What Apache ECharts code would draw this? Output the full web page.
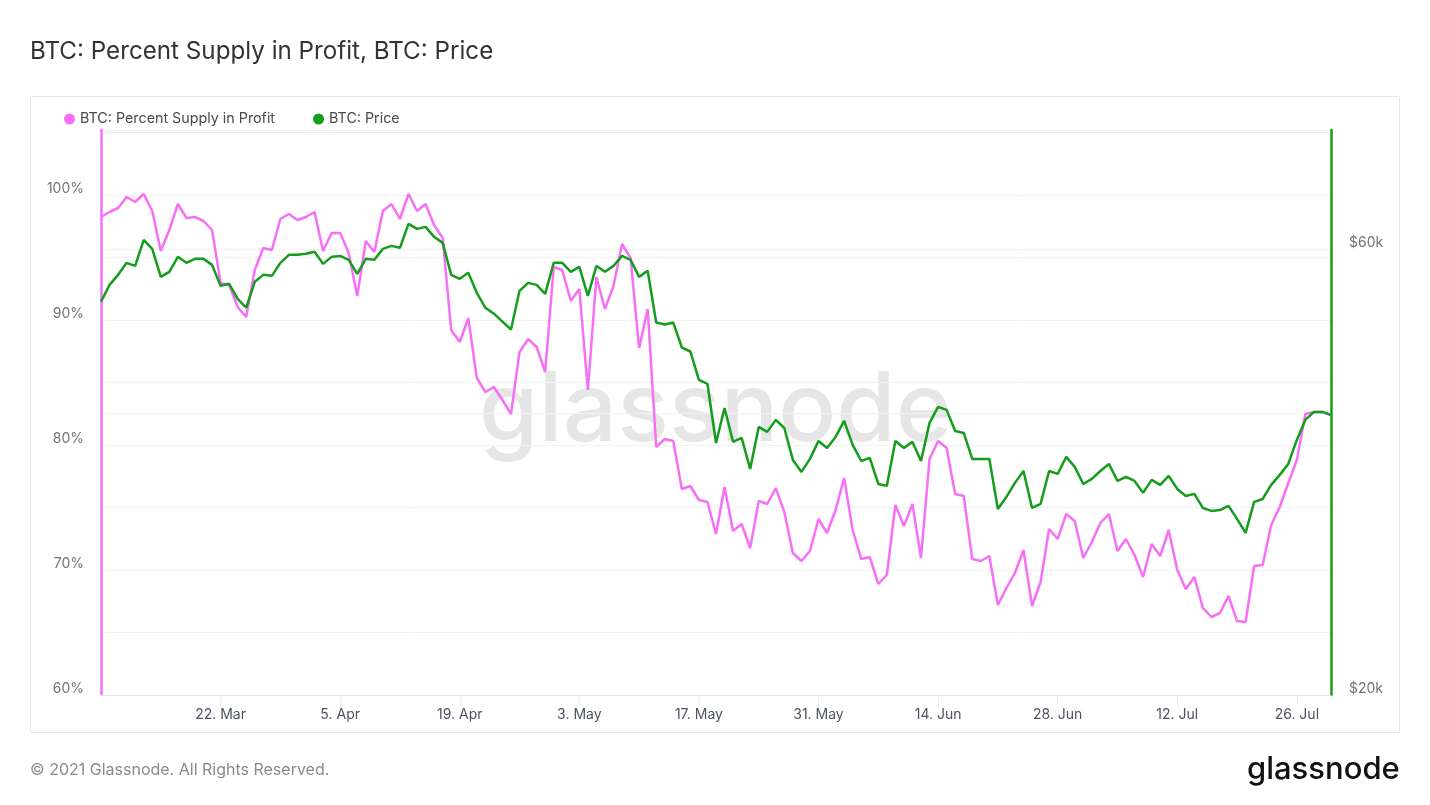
<!DOCTYPE html>
<html>
<head>
<meta charset="utf-8">
<title>BTC: Percent Supply in Profit, BTC: Price</title>
<script src="https://cdn.jsdelivr.net/npm/echarts@6/dist/echarts.min.js"></script>
<style>
  html, body { margin: 0; padding: 0; background: #fff; }
  #chart { width: 1430px; height: 805px; }
</style>
</head>
<body>
<div id="chart"></div>
<script>
const monthNames = ['Mar', 'Apr', 'May', 'Jun', 'Jul'];
const firstDay = Date.UTC(2021, 2, 8);
const dayCount = 145;
const tickEvery = 14;

const profitPct = [
  98.24, 98.64, 98.96, 99.84, 99.44, 100.08, 98.72, 95.52, 97.2, 99.28,
  98.16, 98.24, 97.92, 97.2, 92.96, 92.8, 91.04, 90.24, 94.0, 95.76,
  95.6, 98.08, 98.48, 98.0, 98.24, 98.64, 95.52, 96.96, 96.96, 95.36,
  91.92, 96.32, 95.44, 98.72, 99.28, 98.08, 100.08, 98.72, 99.28, 97.6,
  96.56, 89.2, 88.24, 90.16, 85.36, 84.24, 84.64, 83.6, 82.48, 87.44,
  88.48, 87.84, 85.84, 94.24, 94.0, 91.52, 92.48, 84.4, 93.44, 90.88,
  92.72, 96.08, 94.96, 87.76, 90.88, 79.84, 80.48, 80.32, 76.48, 76.72,
  75.6, 75.44, 72.88, 76.64, 73.12, 73.68, 71.76, 75.52, 75.28, 76.56,
  74.64, 71.36, 70.72, 71.52, 74.08, 72.96, 74.8, 77.36, 73.2, 70.88,
  71.04, 68.88, 69.6, 75.2, 73.52, 75.28, 70.96, 78.88, 80.32, 79.76,
  76.08, 75.92, 70.88, 70.72, 71.12, 67.2, 68.56, 69.76, 71.6, 67.12,
  69.04, 73.28, 72.48, 74.48, 73.92, 70.96, 72.24, 73.76, 74.48, 71.52,
  72.48, 71.2, 69.44, 72.08, 71.12, 73.2, 70.0, 68.48, 69.44, 66.96,
  66.24, 66.56, 67.92, 65.92, 65.84, 70.32, 70.4, 73.6, 75.04, 76.96,
  78.8, 82.48, 82.64, 82.64, 82.4
];

const btcPrice = [
  52670, 54910, 56280, 57970, 57540, 61340, 60000, 56000, 56700, 58830,
  57970, 58540, 58540, 57680, 54780, 55050, 53060, 51900, 55320, 56280,
  56140, 57970, 59120, 59120, 59270, 59560, 57820, 58830, 58970, 58400,
  56420, 58540, 58400, 60000, 60440, 60150, 63810, 63030, 63340, 61800,
  60890, 56280, 55730, 56560, 53850, 51900, 51150, 50160, 49190, 54110,
  55180, 54910, 53710, 57970, 57970, 56700, 57400, 53450, 57540, 56700,
  57540, 58970, 58400, 56000, 56840, 50040, 49800, 50040, 47060, 46600,
  43450, 43020, 37200, 40550, 37300, 37670, 34900, 38700, 38230, 39380,
  38600, 35680, 34640, 35770, 37390, 36750, 37760, 39280, 37020, 35590,
  35860, 33630, 33470, 37390, 36750, 37300, 35590, 39090, 40660, 40360,
  38320, 38130, 35770, 35770, 35770, 31620, 32570, 33720, 34720, 31700,
  32020, 34720, 34470, 35950, 35070, 33630, 34050, 34720, 35330, 33880,
  34220, 33880, 32900, 33970, 33550, 34300, 33220, 32650, 32820, 31700,
  31470, 31540, 31860, 30860, 29810, 32180, 32410, 33550, 34390, 35330,
  37480, 39380, 40160, 40160, 39860
];

const priceGridValues = [20000, 40000, 60000];
const priceLabelValues = [20000, 60000];

const pink = '#f76ff7';
const green = '#149c1c';
const labelGray = '#737373';
const gridGray = '#f2f2f2';
const fontName = 'Inter';

const categories = [];
for (let i = 0; i < dayCount; i++) {
  const d = new Date(firstDay + i * 86400000);
  categories.push(d.getUTCDate() + '. ' + monthNames[d.getUTCMonth() - 2]);
}

const showTick = (index) => index > 0 && index % tickEvery === 0;

const chart = echarts.init(document.getElementById('chart'), null, {renderer: 'canvas'});

chart.setOption({
  animation: false,
  backgroundColor: '#fff',
  textStyle: {fontFamily: fontName},
  title: {
    text: 'BTC: Percent Supply in Profit, BTC: Price',
    left: 30,
    top: 40,
    padding: 0,
    textStyle: {fontFamily: fontName, fontSize: 24.2, fontWeight: 'normal', color: '#333'}
  },
  legend: {
    left: 64,
    top: 112,
    padding: 0,
    icon: 'circle',
    itemWidth: 11,
    itemHeight: 11,
    itemGap: 38,
    textStyle: {fontFamily: fontName, fontSize: 14.3, color: '#4a4a4a'}
  },
  grid: {left: 101, right: 99, top: 130, bottom: 110, containLabel: false},
  xAxis: {
    type: 'category',
    data: categories,
    boundaryGap: false,
    axisLine: {lineStyle: {color: '#e6e6e6', width: 1}},
    axisTick: {interval: showTick, length: 12, lineStyle: {color: '#eeeeee'}},
    axisLabel: {
      interval: showTick,
      margin: 13,
      fontFamily: fontName,
      fontSize: 14,
      color: '#4d5360'
    },
    splitLine: {show: false}
  },
  yAxis: [
    {
      type: 'value',
      min: 60,
      max: 105.2,
      interval: 5,
      axisLine: {show: true, onZero: false, lineStyle: {color: pink, width: 2.5}},
      axisTick: {show: false},
      axisLabel: {
        margin: 17,
        verticalAlign: 'bottom',
        lineHeight: 12,
        fontFamily: fontName,
        fontSize: 14,
        color: labelGray,
        showMaxLabel: false,
        formatter: (v) => (v % 10 === 0 ? v + '%' : '')
      },
      splitLine: {lineStyle: {color: gridGray, width: 1}}
    },
    {
      type: 'log',
      position: 'right',
      min: 20000,
      max: 80400,
      axisLine: {show: true, onZero: false, lineStyle: {color: green, width: 2.5}},
      axisTick: {show: false, customValues: priceGridValues},
      axisLabel: {
        margin: 18,
        verticalAlign: 'bottom',
        lineHeight: 13,
        customValues: priceLabelValues,
        fontFamily: fontName,
        fontSize: 14,
        color: labelGray,
        formatter: (v) => '$' + Math.round(v / 1000) + 'k'
      },
      splitLine: {show: true, lineStyle: {color: gridGray, width: 1}}
    }
  ],
  graphic: [
    {
      type: 'rect',
      z: -10,
      silent: true,
      shape: {x: 30.5, y: 96.5, width: 1369, height: 636},
      style: {fill: 'none', stroke: '#e6e6e6', lineWidth: 1}
    },
    {
      type: 'text',
      z: 0,
      silent: true,
      x: 479,
      y: 364,
      style: {
        text: 'glassnode',
        fontFamily: fontName,
        fontSize: 96,
        fontWeight: 500,
        fill: '#e6e6e6'
      }
    },
    {
      type: 'text',
      silent: true,
      x: 30,
      y: 762,
      style: {
        text: '© 2021 Glassnode. All Rights Reserved.',
        fontFamily: fontName,
        fontSize: 16,
        fill: '#8a8a8a'
      }
    },
    {
      type: 'text',
      silent: true,
      x: 1247,
      y: 754,
      style: {
        text: 'glassnode',
        fontFamily: fontName,
        fontSize: 31,
        fontWeight: 500,
        fill: '#111'
      }
    }
  ],
  series: [
    {
      name: 'BTC: Percent Supply in Profit',
      type: 'line',
      yAxisIndex: 0,
      data: profitPct,
      symbol: 'none',
      lineStyle: {color: pink, width: 2.5},
      itemStyle: {color: pink}
    },
    {
      name: 'BTC: Price',
      type: 'line',
      yAxisIndex: 1,
      data: btcPrice,
      symbol: 'none',
      lineStyle: {color: green, width: 2.5},
      itemStyle: {color: green}
    }
  ]
});
</script>
</body>
</html>
